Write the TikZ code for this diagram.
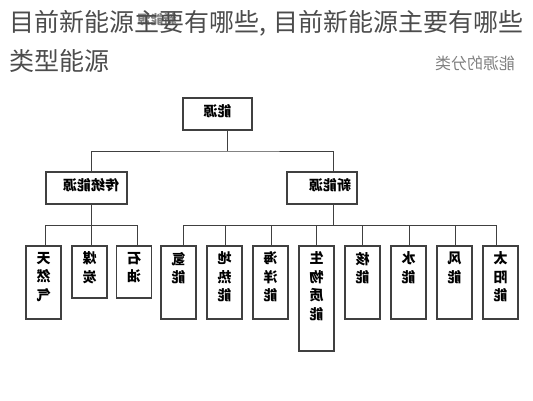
\documentclass[tikz,border=0pt]{standalone}
\usepackage{fontspec}
\setmainfont{Noto Sans CJK SC}
\usepackage{graphicx}
\usepackage{tikz}
\usetikzlibrary{positioning}
\newcommand{\flip}[1]{\reflectbox{#1}}
\newcommand{\vstack}[2]{\parbox[c][#1][t]{35pt}{\centering\vspace*{6pt}#2}}
\tikzset{
  boxline/.style={draw=black!75, line width=1.1pt},
  topbox/.style={boxline, rectangle, minimum width=69pt, minimum height=32pt, inner sep=0pt,
    text height=9pt, text depth=5pt, font=\bfseries\fontsize{14}{16}\selectfont},
  leafbox/.style={boxline, rectangle, minimum width=35pt, inner sep=0pt,
    font=\bfseries\fontsize{14}{18.5}\selectfont},
  link/.style={draw=black!75, line width=1pt},
  titletext/.style={inner sep=0pt, anchor=base west, text=black!70, font=\fontsize{25}{30}\selectfont},
  greytext/.style={inner sep=0pt, text=black!50}
}

\begin{document}
\begin{tikzpicture}[x=1pt, y=-1pt]
  \useasboundingbox (0,0) rectangle (533,400);
  % faded labels of the scanned page
  \node[greytext, font=\bfseries\fontsize{13}{15}\selectfont] (ghost) at (157,20) {\flip{新能源}};
  \node[greytext, font=\fontsize{16}{18}\selectfont] (classify) at (475,63) {\flip{能源的分类}};
  % heading
  \node[titletext] (title) at (9.5,31) {目前新能源主要有哪些,\kern7pt目前新能源主要有哪些};
  \node[titletext] (titlecont) at (9.5,70) {类型能源};

  % upper levels
  \node[topbox] (nengyuan) at (217.5,114) {\flip{能源}};
  \node[topbox, minimum width=81pt] (chuantong) at (86.5,188) {\hspace*{9pt}\flip{传统能源}};
  \node[topbox, minimum width=70pt] (xinneng) at (322,188) {\hspace*{16pt}\flip{新能源}};

  % traditional sources
  \node[leafbox] (tianranqi) at (43.5,282.5) {\vstack{73pt}{\flip{天}\\\flip{然}\\\flip{气}}};
  \node[leafbox] (meitan) at (89.5,272) {\vstack{52pt}{\flip{煤}\\\flip{炭}}};
  \node[leafbox] (shiyou) at (134,272) {\vstack{52pt}{\flip{石}\\\flip{油}}};

  % new sources
  \node[leafbox] (qingneng) at (178.5,282.5) {\vstack{73pt}{\flip{氢}\\\flip{能}}};
  \node[leafbox] (dire) at (224.5,282.5) {\vstack{73pt}{\flip{地}\\\flip{热}\\\flip{能}}};
  \node[leafbox] (haiyang) at (270.5,282.5) {\vstack{73pt}{\flip{海}\\\flip{洋}\\\flip{能}}};
  \node[leafbox] (shengwu) at (316.5,298.5) {\vstack{105pt}{\flip{生}\\\flip{物}\\\flip{质}\\\flip{能}}};
  \node[leafbox] (heneng) at (362.5,282.5) {\vstack{73pt}{\flip{核}\\\flip{能}}};
  \node[leafbox] (shuineng) at (408.5,282.5) {\vstack{73pt}{\flip{水}\\\flip{能}}};
  \node[leafbox] (fengneng) at (454.5,282.5) {\vstack{73pt}{\flip{风}\\\flip{能}}};
  \node[leafbox] (taiyang) at (500.5,282.5) {\vstack{73pt}{\flip{太}\\\flip{阳}\\\flip{能}}};

  % connectors
  \coordinate (jtop) at (227,151);
  \coordinate (jleft) at (91,225);
  \coordinate (jright) at (333,225);
  \draw[link] (nengyuan.south -| jtop) -- (jtop);
  \draw[link] (chuantong.north -| jleft) |- (jtop) -| (xinneng.north -| jright);
  \draw[link] (chuantong.south -| jleft) -- (jleft);
  \draw[link] (xinneng.south -| jright) -- (jright);
  \foreach \leaf/\dx in {tianranqi/1.5, meitan/1.5, shiyou/3}
    \draw[link] ([xshift=\dx pt]\leaf.north) |- (jleft);
  \foreach \leaf/\dx in {qingneng/4.5, dire/0.5, haiyang/0.5, shengwu/0, heneng/0, shuineng/0.5, fengneng/0.5, taiyang/-4.5}
    \draw[link] ([xshift=\dx pt]\leaf.north) |- (jright);
\end{tikzpicture}
\end{document}
